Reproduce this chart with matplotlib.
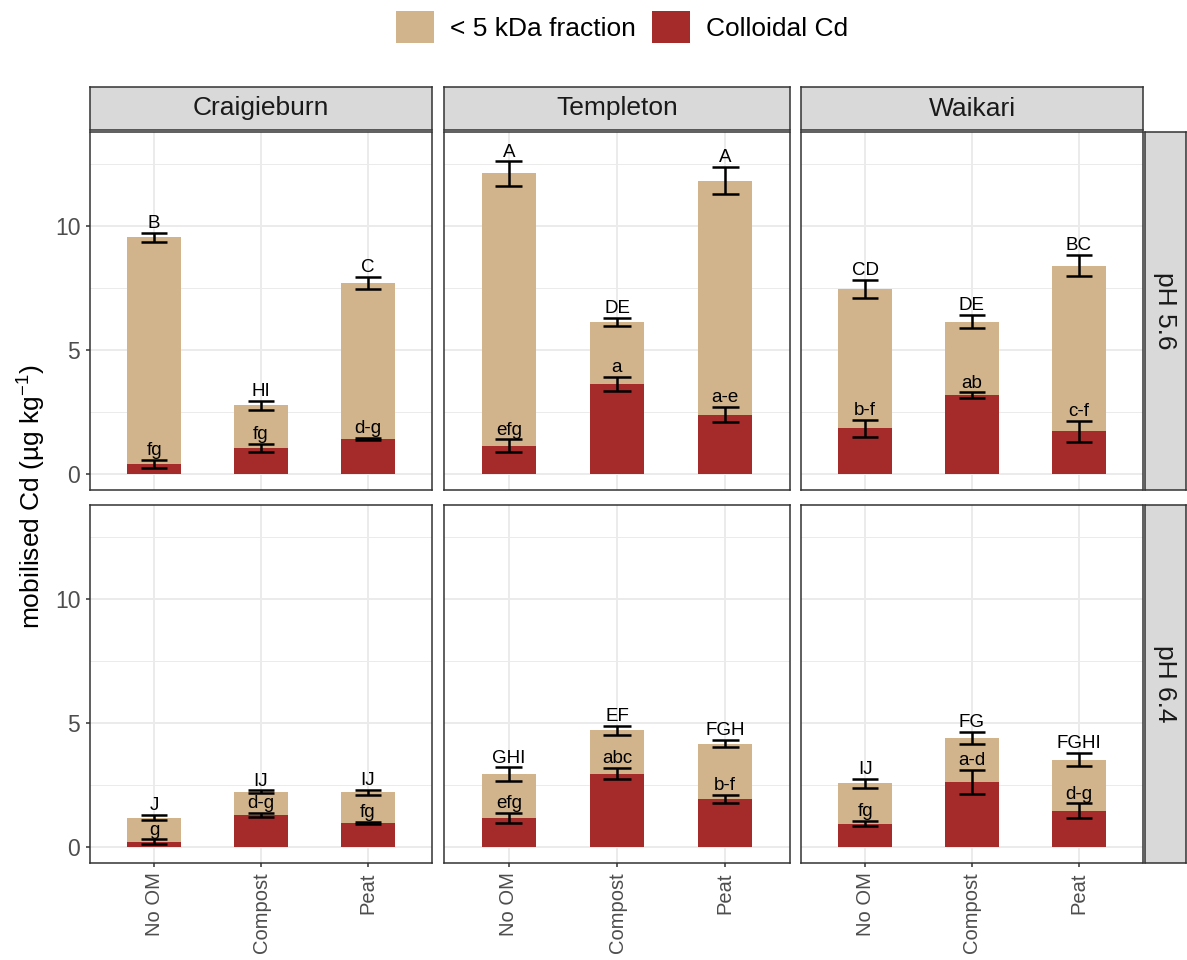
import matplotlib
matplotlib.use("Agg")
import matplotlib.pyplot as plt
from matplotlib.patches import Patch
import numpy as np

plt.rcParams["font.family"] = ["Liberation Sans", "DejaVu Sans"]
plt.rcParams["mathtext.fontset"] = "custom"
plt.rcParams["mathtext.rm"] = "Liberation Sans"
plt.rcParams["mathtext.it"] = "Liberation Sans:italic"

# ---- data -------------------------------------------------------------
sites = ["Craigieburn", "Templeton", "Waikari"]
ph_levels = ["pH 5.6", "pH 6.4"]
treatments = ["No OM", "Compost", "Peat"]

# total mobilised Cd (mean, se) per pH -> site -> treatment
total_ph56 = [[9.54, 2.77, 7.69], [12.12, 6.13, 11.83], [7.47, 6.14, 8.40]]
total_se_ph56 = [[0.18, 0.19, 0.25], [0.49, 0.17, 0.56], [0.37, 0.26, 0.43]]
total_ph64 = [[1.18, 2.23, 2.21], [2.94, 4.70, 4.17], [2.57, 4.40, 3.52]]
total_se_ph64 = [[0.10, 0.05, 0.10], [0.27, 0.17, 0.14], [0.18, 0.23, 0.26]]

# colloidal Cd (mean, se)
coll_ph56 = [[0.40, 1.04, 1.40], [1.14, 3.63, 2.39], [1.84, 3.17, 1.71]]
coll_se_ph56 = [[0.17, 0.17, 0.05], [0.25, 0.28, 0.31], [0.34, 0.12, 0.43]]
coll_ph64 = [[0.21, 1.29, 0.97], [1.18, 2.96, 1.92], [0.94, 2.62, 1.45]]
coll_se_ph64 = [[0.09, 0.09, 0.05], [0.20, 0.23, 0.17], [0.10, 0.50, 0.30]]

# significance letters
upper_ph56 = [["B", "HI", "C"], ["A", "DE", "A"], ["CD", "DE", "BC"]]
lower_ph56 = [["fg", "fg", "d-g"], ["efg", "a", "a-e"], ["b-f", "ab", "c-f"]]
upper_ph64 = [["J", "IJ", "IJ"], ["GHI", "EF", "FGH"], ["IJ", "FG", "FGHI"]]
lower_ph64 = [["g", "d-g", "fg"], ["efg", "abc", "b-f"], ["fg", "a-d", "d-g"]]

totals = [total_ph56, total_ph64]
totals_se = [total_se_ph56, total_se_ph64]
colls = [coll_ph56, coll_ph64]
colls_se = [coll_se_ph56, coll_se_ph64]
uppers = [upper_ph56, upper_ph64]
lowers = [lower_ph56, lower_ph64]

# ---- style ------------------------------------------------------------
TAN = "#D2B48C"
BROWN = "#A52A2A"
FRAME = "#333333"
GRID = "#EBEBEB"
TICKTXT = "#4D4D4D"
STRIP = "#D9D9D9"

W, H = 1187, 960
fig = plt.figure(figsize=(W / 100, H / 100), dpi=100)

col_x = [(90, 432), (444, 790), (801, 1143)]
row_y = [(132, 490), (505, 863)]
strip_top = (87, 130)
strip_right = (1145, 1187)


def fx(px):
    return px / W


def fy(py):
    return 1 - py / H


x = np.arange(1, len(treatments) + 1)
bar_w = 0.5
cap_w = 0.25

for r in range(2):
    for c in range(3):
        x0, x1 = col_x[c]
        y0, y1 = row_y[r]
        ax = fig.add_axes([fx(x0), fy(y1), fx(x1) - fx(x0), fy(y0) - fy(y1)])
        ax.set_xlim(0.4, 3.6)
        ax.set_ylim(-0.65, 13.79)
        ax.set_yticks([0, 5, 10])
        ax.set_yticks([2.5, 7.5, 12.5], minor=True)
        ax.set_xticks(x)
        ax.grid(True, which="major", color=GRID, lw=1.4, zorder=0)
        ax.grid(True, which="minor", axis="y", color=GRID, lw=0.7, zorder=0)
        ax.set_axisbelow(True)
        for sp in ax.spines.values():
            sp.set_color(FRAME)
            sp.set_linewidth(1.1)

        tot = np.array(totals[r][c])
        tot_se = np.array(totals_se[r][c])
        col = np.array(colls[r][c])
        col_se = np.array(colls_se[r][c])

        ax.bar(x, col, width=bar_w, color=BROWN, zorder=2)
        ax.bar(x, tot - col, bottom=col, width=bar_w, color=TAN, zorder=2)

        ax.errorbar(x, tot, yerr=tot_se, fmt="none", ecolor="black",
                    elinewidth=1.8, capsize=0, zorder=3)
        ax.errorbar(x, col, yerr=col_se, fmt="none", ecolor="black",
                    elinewidth=1.8, capsize=0, zorder=3)
        for xi, t, ts, cm, cs in zip(x, tot, tot_se, col, col_se):
            for yv in (t - ts, t + ts, cm - cs, cm + cs):
                ax.plot([xi - cap_w / 2, xi + cap_w / 2], [yv, yv],
                        color="black", lw=1.8, solid_capstyle="butt", zorder=3)

        for xi, t, ts, lab in zip(x, tot, tot_se, uppers[r][c]):
            ax.annotate(lab, (xi, t + ts), xytext=(0, 3.4),
                        textcoords="offset points", ha="center",
                        va="baseline", fontsize=13.5, color="black", zorder=4)
        for xi, cm, cs, lab in zip(x, col, col_se, lowers[r][c]):
            ax.annotate(lab, (xi, cm + cs), xytext=(0, 3.4),
                        textcoords="offset points", ha="center",
                        va="baseline", fontsize=13.5, color="black", zorder=4)

        ax.tick_params(axis="both", which="major", length=3, width=1.1,
                       color=FRAME, labelcolor=TICKTXT, labelsize=16.5,
                       pad=4)
        ax.tick_params(axis="x", which="major", labelsize=14.5, pad=3.5)
        ax.tick_params(axis="both", which="minor", length=0)
        if c == 0:
            ax.set_yticklabels(["0", "5", "10"])
        else:
            ax.tick_params(axis="y", which="major", length=0, labelleft=False)
        if r == 1:
            ax.set_xticklabels(treatments, rotation=90)
        else:
            ax.tick_params(axis="x", which="major", length=0, labelbottom=False)

# facet strips across the top
for c, site in enumerate(sites):
    x0, x1 = col_x[c]
    sax = fig.add_axes([fx(x0), fy(strip_top[1]), fx(x1) - fx(x0),
                        fy(strip_top[0]) - fy(strip_top[1])])
    sax.set_facecolor(STRIP)
    sax.set_xticks([])
    sax.set_yticks([])
    for sp in sax.spines.values():
        sp.set_color(FRAME)
        sp.set_linewidth(1.1)
    sax.text(0.5, 0.5, site, ha="center", va="center", fontsize=19,
             color="#1A1A1A", transform=sax.transAxes)

# facet strips on the right
for r, lvl in enumerate(ph_levels):
    y0, y1 = row_y[r]
    sax = fig.add_axes([fx(strip_right[0]), fy(y1),
                        fx(strip_right[1]) - fx(strip_right[0]) - 0.001,
                        fy(y0) - fy(y1)])
    sax.set_facecolor(STRIP)
    sax.set_xticks([])
    sax.set_yticks([])
    for sp in sax.spines.values():
        sp.set_color(FRAME)
        sp.set_linewidth(1.1)
    sax.text(0.5, 0.5, lvl, ha="center", va="center", fontsize=19,
             rotation=-90, color="#1A1A1A", transform=sax.transAxes)

# y-axis title
fig.text(fx(32), fy(497), "mobilised Cd (µg kg$^{-1}$)", rotation=90,
         ha="center", va="center", fontsize=19, color="black")

# legend
handles = [Patch(facecolor=TAN, edgecolor="none"),
           Patch(facecolor=BROWN, edgecolor="none")]
fig.legend(handles, ["< 5 kDa fraction", "Colloidal Cd"], loc="center",
           bbox_to_anchor=(fx(622), fy(27)), ncol=2, frameon=False,
           fontsize=19, handlelength=1.45, handleheight=1.45,
           handletextpad=0.6, columnspacing=0.6, borderpad=0)

fig.savefig("out.png", dpi=100)
